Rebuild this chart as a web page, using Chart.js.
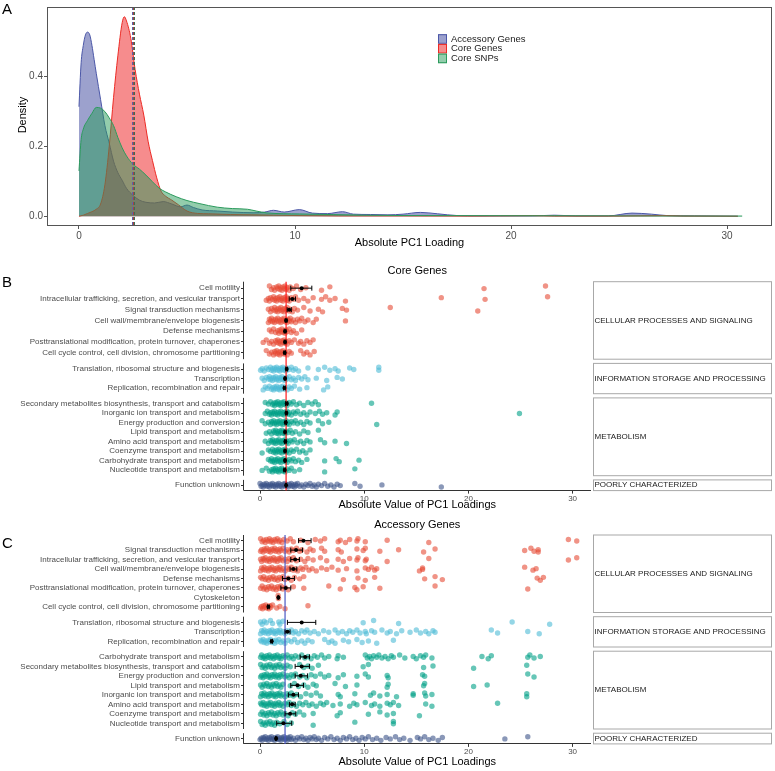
<!DOCTYPE html>
<html>
<head>
<meta charset="utf-8">
<script src="https://cdn.jsdelivr.net/npm/chart.js@4.4.0/dist/chart.umd.min.js"></script>
<style>
  body { margin: 0; background: #fff; }
  #wrap { position: relative; width: 775px; height: 771px; }
  canvas { position: absolute; left: 0; }
</style>
</head>
<body>
<div id="wrap">
  <canvas id="densityChart" width="775" height="255" style="top:0px"></canvas>
  <canvas id="coreChart" width="775" height="257" style="top:255px"></canvas>
  <canvas id="accChart" width="775" height="259" style="top:512px"></canvas>
</div>
<script>
// ---------- Panel A: density of absolute PC1 loadings ----------
const accDensX = [0, 0.1, 0.2, 0.3, 0.4, 0.5, 0.6, 0.7, 0.8, 1.0, 1.2, 1.4, 1.6, 1.8, 2.0, 2.2, 2.5, 2.8, 3.1, 3.5, 3.9, 4.3, 4.7, 5.0, 5.3, 5.7, 6.4, 7.1, 8.1, 8.6, 9.0, 9.5, 10.2, 10.8, 11.5, 12.2, 12.7, 13.5, 14.3, 15.0, 15.8, 16.6, 17.5, 19, 21, 22, 23, 24.5, 25.6, 26.5, 27.2, 28.5, 30.5];
const accDensY = [0.314, 0.44, 0.49, 0.52, 0.528, 0.52, 0.49, 0.45, 0.41, 0.335, 0.26, 0.21, 0.158, 0.125, 0.103, 0.08, 0.06, 0.046, 0.04, 0.038, 0.042, 0.035, 0.027, 0.032, 0.025, 0.018, 0.015, 0.012, 0.01, 0.012, 0.017, 0.012, 0.019, 0.009, 0.0075, 0.013, 0.006, 0.005, 0.004, 0.006, 0.011, 0.007, 0.002, 0.001, 0.001, 0.003, 0.001, 0.001, 0.009, 0.006, 0.002, 0.001, 0];
const coreDensX = [0, 0.2, 0.4, 0.6, 0.8, 1.0, 1.2, 1.4, 1.6, 1.8, 2.0, 2.1, 2.2, 2.4, 2.6, 2.8, 3.0, 3.2, 3.4, 3.6, 3.8, 4.0, 4.3, 4.6, 5.0, 5.5, 6, 7, 8, 9, 10, 12, 15, 18, 21, 22, 25, 27, 28, 30.5];
const coreDensY = [0, 0.003, 0.008, 0.013, 0.02, 0.035, 0.09, 0.2, 0.34, 0.46, 0.555, 0.572, 0.56, 0.51, 0.42, 0.35, 0.29, 0.215, 0.16, 0.11, 0.072, 0.058, 0.046, 0.033, 0.015, 0.008, 0.007, 0.005, 0.004, 0.003, 0.002, 0.001, 0.001, 0.0005, 0.002, 0.0005, 0.0005, 0.002, 0.0005, 0];
const snpDensX = [0, 0.1, 0.2, 0.4, 0.6, 0.8, 1.0, 1.2, 1.4, 1.6, 1.8, 2.0, 2.2, 2.5, 2.8, 3.1, 3.4, 3.7, 4.0, 4.5, 5.0, 5.6, 6.4, 7.1, 7.8, 8.2, 8.7, 10.2, 11.8, 13.3, 15, 20, 25, 30.7];
const snpDensY = [0.13, 0.22, 0.25, 0.275, 0.295, 0.312, 0.31, 0.3, 0.282, 0.26, 0.226, 0.196, 0.173, 0.149, 0.135, 0.118, 0.099, 0.081, 0.07, 0.056, 0.045, 0.036, 0.026, 0.022, 0.02, 0.015, 0.0095, 0.0066, 0.0047, 0.003, 0.002, 0.0015, 0.001, 0.0005];
const densMedians = [2.44, 2.49, 2.54]; // accessory, core genes, core SNPs
const densXTicks = [0, 10, 20, 30];
const densYTicks = [0, 0.2, 0.4];

// ---------- Panels B and C: loadings per COG category ----------
const groupNames = ['CELLULAR PROCESSES AND SIGNALING', 'INFORMATION STORAGE AND PROCESSING', 'METABOLISM', 'POORLY CHARACTERIZED'];
const loadXTicks = [0, 10, 20, 30];

const coreCats = [
  'Cell motility',
  'Intracellular trafficking, secretion, and vesicular transport',
  'Signal transduction mechanisms',
  'Cell wall/membrane/envelope biogenesis',
  'Defense mechanisms',
  'Posttranslational modification, protein turnover, chaperones',
  'Cell cycle control, cell division, chromosome partitioning',
  'Translation, ribosomal structure and biogenesis',
  'Transcription',
  'Replication, recombination and repair',
  'Secondary metabolites biosynthesis, transport and catabolism',
  'Inorganic ion transport and metabolism',
  'Energy production and conversion',
  'Lipid transport and metabolism',
  'Amino acid transport and metabolism',
  'Coenzyme transport and metabolism',
  'Carbohydrate transport and metabolism',
  'Nucleotide transport and metabolism',
  'Function unknown'
];
const coreGroupSizes = [7, 3, 8, 1];
const coreValues = [
  [0.9,1.1,1.3,1.4,1.6,1.7,1.8,1.9,2.0,2.1,2.2,2.3,2.4,2.5,2.6,2.8,2.9,3.2,3.5,3.9,4.4,5.9,6.7,21.5,27.4],
  [0.6,0.8,0.9,1.0,1.2,1.3,1.4,1.5,1.6,1.7,1.8,1.9,2.0,2.1,2.2,2.3,2.4,2.5,2.6,2.7,2.8,3.0,3.2,3.4,3.7,4.2,4.6,5.1,5.9,6.3,6.7,7.2,8.2,17.4,21.6,27.6],
  [0.8,1.0,1.1,1.3,1.4,1.5,1.6,1.7,1.8,1.9,2.0,2.1,2.2,2.3,2.4,2.5,2.6,2.8,2.9,3.1,3.3,3.6,4.2,4.8,5.6,6.0,7.9,8.3,12.5,20.9],
  [0.8,0.9,1.0,1.1,1.2,1.3,1.4,1.5,1.6,1.7,1.8,1.9,2.0,2.1,2.2,2.3,2.4,2.5,2.6,2.7,2.8,2.9,3.0,3.2,3.4,3.6,3.8,4.0,4.3,4.6,5.1,5.4,8.2],
  [0.9,1.1,1.3,1.5,1.7,1.8,1.9,2.0,2.1,2.2,2.3,2.4,2.5,2.6,2.8,3.0,3.2,3.5,4.0],
  [0.3,0.6,0.9,1.1,1.3,1.5,1.6,1.7,1.8,1.9,2.0,2.1,2.2,2.3,2.4,2.5,2.6,2.8,3.0,3.3,3.7,3.9,4.2,4.5,4.8,5.1],
  [0.6,0.9,1.1,1.3,1.4,1.5,1.6,1.7,1.8,1.9,2.0,2.1,2.2,2.3,2.4,2.6,2.8,3.0,3.9,4.2,4.5,4.8,5.2],
  [0.05,0.2,0.4,0.6,0.8,1.0,1.1,1.2,1.3,1.4,1.5,1.6,1.7,1.8,1.9,2.0,2.1,2.2,2.3,2.4,2.5,2.6,2.8,3.0,3.2,3.4,3.7,4.6,5.6,6.2,6.7,7.2,7.5,8.6,9.0,11.4,11.4],
  [0.2,0.4,0.6,0.8,0.9,1.0,1.1,1.2,1.3,1.4,1.5,1.6,1.7,1.8,1.9,2.0,2.1,2.2,2.3,2.4,2.5,2.6,2.8,3.0,3.2,3.4,3.7,4.0,4.3,4.6,5.4,6.4,7.4,7.9],
  [0.3,0.5,0.7,0.9,1.1,1.2,1.3,1.4,1.5,1.6,1.7,1.8,1.9,2.0,2.1,2.2,2.3,2.4,2.6,2.8,3.0,3.3,3.8,4.5,6.1,6.5],
  [0.5,0.8,1.0,1.2,1.3,1.4,1.5,1.6,1.7,1.8,1.9,2.0,2.1,2.2,2.3,2.4,2.5,2.6,2.8,3.0,3.2,3.5,3.8,4.2,4.6,5.0,5.3,5.6,10.7],
  [0.5,0.7,0.9,1.0,1.1,1.2,1.3,1.4,1.5,1.6,1.7,1.8,1.9,2.0,2.1,2.2,2.3,2.4,2.5,2.6,2.7,2.8,3.0,3.2,3.4,3.6,3.9,4.2,4.5,4.8,5.3,5.7,6.0,6.4,7.2,7.4,24.9],
  [0.2,0.5,0.8,1.0,1.1,1.2,1.3,1.4,1.5,1.6,1.7,1.8,1.9,2.0,2.1,2.2,2.3,2.4,2.5,2.6,2.7,2.8,3.0,3.2,3.4,3.6,3.9,4.2,4.5,4.8,5.6,6.0,6.6,11.2],
  [0.6,0.9,1.1,1.3,1.4,1.5,1.6,1.7,1.8,1.9,2.0,2.1,2.2,2.3,2.4,2.5,2.7,2.9,3.1,3.4,3.8,4.2,4.6,5.6],
  [0.5,0.8,1.0,1.1,1.2,1.3,1.4,1.5,1.6,1.7,1.8,1.9,2.0,2.1,2.2,2.3,2.4,2.5,2.6,2.7,2.9,3.1,3.3,3.6,3.9,4.2,4.5,4.8,5.8,6.2,7.2,8.3],
  [0.2,0.8,1.0,1.2,1.3,1.4,1.5,1.6,1.7,1.8,1.9,2.0,2.1,2.2,2.3,2.4,2.5,2.6,2.8,3.0,3.2,3.5,3.8,4.1,4.4,4.8],
  [0.8,1.0,1.1,1.2,1.3,1.4,1.5,1.6,1.7,1.8,1.9,2.0,2.1,2.2,2.3,2.4,2.5,2.6,2.8,3.0,3.2,3.4,3.7,4.0,4.5,6.2,7.3,7.6,9.5],
  [0.2,0.6,0.9,1.1,1.2,1.3,1.4,1.5,1.6,1.7,1.8,1.9,2.0,2.1,2.2,2.3,2.4,2.6,2.8,3.0,3.3,3.8,6.2,9.1],
  [0.0,0.1,0.2,0.3,0.4,0.5,0.6,0.7,0.8,0.9,1.0,1.1,1.2,1.3,1.4,1.5,1.6,1.7,1.8,1.9,2.0,2.1,2.2,2.3,2.4,2.5,2.6,2.7,2.8,2.9,3.0,3.1,3.2,3.3,3.4,3.5,3.6,3.8,4.0,4.2,4.4,4.6,4.8,5.0,5.2,5.4,5.6,5.9,6.2,6.5,6.8,7.1,7.4,7.7,9.1,9.6,11.7,17.4]
];
const coreMean = [4.0, 3.1, 2.8, 2.5, 2.4, 2.4, 2.37, 2.56, 2.4, 2.34, 2.56, 2.53, 2.47, 2.4, 2.43, 2.4, 2.4, 2.37, 2.5];
const coreLo = [2.95, 2.8, 2.6, 2.42, 2.32, 2.32, 2.3, 2.48, 2.33, 2.26, 2.46, 2.46, 2.4, 2.32, 2.36, 2.32, 2.33, 2.29, 2.45];
const coreHi = [4.97, 3.4, 3.0, 2.58, 2.48, 2.48, 2.44, 2.64, 2.47, 2.42, 2.66, 2.6, 2.54, 2.48, 2.5, 2.48, 2.47, 2.45, 2.55];
const coreRef = 2.5;

const accCats = [
  'Cell motility',
  'Signal transduction mechanisms',
  'Intracellular trafficking, secretion, and vesicular transport',
  'Cell wall/membrane/envelope biogenesis',
  'Defense mechanisms',
  'Posttranslational modification, protein turnover, chaperones',
  'Cytoskeleton',
  'Cell cycle control, cell division, chromosome partitioning',
  'Translation, ribosomal structure and biogenesis',
  'Transcription',
  'Replication, recombination and repair',
  'Carbohydrate transport and metabolism',
  'Secondary metabolites biosynthesis, transport and catabolism',
  'Energy production and conversion',
  'Lipid transport and metabolism',
  'Inorganic ion transport and metabolism',
  'Amino acid transport and metabolism',
  'Coenzyme transport and metabolism',
  'Nucleotide transport and metabolism',
  'Function unknown'
];
const accGroupSizes = [8, 3, 8, 1];
const accValues = [
  [0.05,0.2,0.35,0.5,0.6,0.75,0.9,1.0,1.1,1.25,1.4,1.5,1.65,1.8,1.9,2.1,2.3,2.6,2.9,3.2,3.9,4.6,5.3,5.8,6.2,7.5,7.7,8.2,8.6,9.3,9.4,10.1,12.2,16.2,29.6,30.4],
  [0.05,0.15,0.3,0.4,0.5,0.65,0.8,0.9,1.0,1.15,1.3,1.4,1.5,1.65,1.8,1.9,2.0,2.2,2.4,2.6,2.8,3.0,3.2,3.5,3.8,4.0,4.5,4.8,5.1,5.9,6.2,7.5,7.8,9.3,9.9,10.1,11.5,13.3,15.7,16.8,25.4,26.0,26.3,26.7,26.7],
  [0.05,0.15,0.3,0.4,0.5,0.65,0.8,0.9,1.0,1.15,1.3,1.4,1.5,1.65,1.8,1.9,2.0,2.2,2.4,2.6,2.8,3.0,3.2,3.5,3.9,4.3,4.6,5.1,5.8,6.4,7.5,8.0,8.6,9.3,9.4,10.1,10.2,12.2,16.2,29.6,30.4],
  [0.05,0.15,0.3,0.4,0.5,0.65,0.8,0.9,1.0,1.15,1.3,1.4,1.5,1.65,1.8,1.9,2.0,2.2,2.4,2.6,2.8,3.0,3.2,3.4,3.6,3.9,4.1,4.4,4.7,5.0,5.4,5.9,6.4,6.9,7.5,8.3,9.3,10.1,10.4,10.7,11.0,11.2,15.3,15.6,15.6,25.4,26.2,26.5],
  [0.05,0.2,0.35,0.5,0.65,0.8,0.95,1.1,1.25,1.4,1.55,1.7,1.85,2.0,2.2,2.4,2.7,3.0,3.3,3.8,4.2,8.0,9.4,10.1,11.0,15.8,16.8,17.5,26.6,26.9,27.2],
  [0.05,0.2,0.35,0.5,0.65,0.8,0.95,1.1,1.25,1.4,1.55,1.7,1.85,2.0,2.2,2.4,2.7,3.2,4.2,6.6,7.7,9.1,9.3,9.9,11.5,16.8,25.7],
  [1.74,1.77],
  [0.05,0.15,0.25,0.35,0.45,0.55,0.65,0.75,0.85,0.95,1.05,1.2,1.6,1.9,2.4,4.6],
  [0.05,0.2,0.4,0.6,1.0,1.2,1.8,1.9,2.2,9.9,10.9,13.3,24.2,27.8],
  [0.05,0.15,0.3,0.4,0.5,0.65,0.8,0.9,1.0,1.15,1.3,1.4,1.5,1.65,1.8,1.9,2.0,2.2,2.4,2.6,2.8,3.0,3.2,3.4,3.7,4.0,4.3,4.5,4.8,5.2,5.6,6.1,6.6,7.2,7.5,7.9,8.3,8.6,8.9,9.3,9.6,10.1,10.2,10.7,11.0,11.7,12.2,12.5,13.1,13.6,14.4,15.0,15.4,15.9,16.2,16.6,16.8,22.2,22.8,25.7,26.8],
  [0.05,0.15,0.3,0.4,0.5,0.65,0.8,0.9,1.0,1.15,1.3,1.4,1.5,1.65,1.8,2.0,2.2,2.4,2.7,3.0,3.3,3.6,4.0,4.3,4.6,5.0,6.2,6.6,6.9,7.2,8.0,8.5,9.3,9.8,10.4,11.2,12.8],
  [0.05,0.15,0.3,0.4,0.5,0.65,0.8,0.9,1.0,1.15,1.3,1.4,1.5,1.65,1.8,1.9,2.0,2.2,2.4,2.6,2.8,3.0,3.2,3.4,3.7,4.0,4.3,4.6,4.9,5.2,5.5,5.9,6.2,6.6,7.4,7.5,8.0,10.1,10.3,10.5,10.7,10.9,11.2,11.4,11.7,12.0,12.3,12.6,12.8,13.4,13.9,14.7,15.0,15.4,15.7,15.9,16.5,21.3,21.9,22.2,25.7,25.9,26.3,26.9],
  [0.05,0.2,0.35,0.5,0.65,0.8,0.95,1.1,1.25,1.4,1.55,1.7,1.85,2.0,2.2,2.4,2.6,2.9,3.8,4.2,4.6,5.0,5.6,9.9,10.4,15.7,16.6,20.5,25.6],
  [0.05,0.15,0.3,0.4,0.5,0.65,0.8,0.9,1.0,1.15,1.3,1.4,1.5,1.65,1.8,1.9,2.0,2.2,2.4,2.6,2.8,3.0,3.2,3.4,3.8,4.1,4.5,4.9,5.3,5.8,6.2,6.6,7.5,8.0,9.3,10.1,10.4,12.2,12.3,15.6,15.8,25.7,26.3],
  [0.05,0.2,0.35,0.5,0.65,0.8,0.95,1.1,1.25,1.4,1.55,1.7,1.85,2.0,2.2,2.9,3.3,3.7,4.2,4.6,5.1,5.4,7.2,8.2,9.3,12.2,12.3,15.7,15.8,20.5,21.8],
  [0.05,0.15,0.3,0.4,0.5,0.65,0.8,0.9,1.0,1.15,1.3,1.4,1.5,1.65,1.8,1.9,2.0,2.2,2.4,2.6,2.8,3.0,3.2,3.5,3.9,4.4,4.9,5.4,5.8,7.5,7.7,9.1,10.6,10.9,11.5,12.2,13.1,14.7,14.7,15.8,15.9,16.5,25.6,25.6],
  [0.05,0.15,0.3,0.4,0.5,0.65,0.8,0.9,1.0,1.15,1.3,1.4,1.5,1.65,1.8,1.9,2.0,2.2,2.4,2.6,2.8,3.0,3.2,3.5,3.8,4.1,4.4,4.7,5.0,5.4,5.8,6.1,6.4,7.0,7.7,8.6,9.0,9.3,10.1,10.7,11.0,11.5,12.2,12.5,12.8,13.3,15.9,16.5,22.8],
  [0.05,0.2,0.35,0.5,0.65,0.8,0.95,1.1,1.25,1.4,1.55,1.7,1.85,2.0,2.2,2.4,2.7,3.1,3.4,3.8,4.2,5.1,7.4,7.7,10.4,11.5,12.2,12.8,15.3],
  [0.05,0.2,0.35,0.5,0.65,0.8,0.95,1.1,1.25,1.4,1.6,1.9,2.3,2.6,3.0,5.1,9.1,12.8,12.8],
  [0.0,0.1,0.2,0.3,0.4,0.5,0.6,0.7,0.8,0.9,1.0,1.1,1.2,1.3,1.4,1.5,1.6,1.7,1.8,1.9,2.0,2.1,2.2,2.3,2.4,2.5,2.6,2.7,2.8,2.9,3.0,3.2,3.4,3.6,3.8,4.0,4.2,4.4,4.6,4.8,5.0,5.2,5.4,5.6,5.9,6.2,6.5,6.8,7.1,7.4,7.7,8.0,8.3,8.6,8.9,9.2,9.5,9.8,10.1,10.4,10.8,11.2,11.6,12.1,12.5,13.0,13.4,13.8,14.4,15.1,15.4,15.8,16.2,16.6,17.1,17.5,23.5,25.7]
];
const accMean = [4.17, 3.46, 3.37, 3.2, 2.72, 2.47, 1.76, 0.8, 4.0, 2.63, 1.12, 4.33, 4.0, 3.9, 3.59, 3.2, 3.08, 2.88, 2.24, 1.54];
const accLo = [3.7, 2.95, 2.95, 2.88, 2.15, 2.0, 1.72, 0.72, 2.63, 2.4, 1.05, 3.85, 3.37, 3.37, 2.95, 2.72, 2.82, 2.4, 1.6, 1.48];
const accHi = [4.9, 4.07, 3.78, 3.53, 3.3, 2.95, 1.8, 0.88, 5.35, 2.88, 1.19, 4.74, 4.74, 4.55, 4.17, 3.69, 3.37, 3.43, 3.04, 1.6];
const accRef = 2.4;

// ---------- styling / layout ----------
const FONT = "'Liberation Sans', Arial, sans-serif";
const GROUP_RGB = ['230,75,53', '77,187,213', '0,160,135', '60,84,136'];
const FACET_PX = [77.5, 30.3, 77.8, 10.7];  // panel heights of the four facets
const FACET_GAP = 4.2;
// fixed vertical jitter pattern, in row units
const JITTER = [-0.2, 0.12, -0.04, 0.2, -0.12, 0.04];

function text(ctx, str, x, y, size, color, align, rot) {
    ctx.save();
    ctx.font = `${size}px ${FONT}`;
    ctx.fillStyle = color;
    ctx.textAlign = align || 'center';
    ctx.textBaseline = 'middle';
    ctx.translate(x, y);
    if (rot) ctx.rotate(rot);
    ctx.fillText(str, 0, 0);
    ctx.restore();
}

function densityChart() {
    const ctx = document.getElementById('densityChart').getContext('2d');
    const series = [
        { label: 'Core SNPs', xs: snpDensX, ys: snpDensY, line: '#2b9a5c', fill: 'rgba(40,155,90,0.5)' },
        { label: 'Core Genes', xs: coreDensX, ys: coreDensY, line: '#ec2a24', fill: 'rgba(238,25,28,0.5)' },
        { label: 'Accessory Genes', xs: accDensX, ys: accDensY, line: '#4b57a7', fill: 'rgba(58,68,155,0.5)' }
    ];
    const medianColors = ['#5a64ad', '#a5443c', '#3d6f55'];

    const panelA = {
        id: 'panelA',
        afterDatasetsDraw(chart) {
            const { ctx, chartArea: ca, scales: { x } } = chart;
            ctx.save();
            ctx.lineWidth = 1;
            ctx.setLineDash([3, 2]);
            densMedians.forEach((m, i) => {
                const px = Math.round(x.getPixelForValue(m)) + 0.5;
                ctx.strokeStyle = medianColors[i];
                ctx.beginPath();
                ctx.moveTo(px, ca.top);
                ctx.lineTo(px, ca.bottom);
                ctx.stroke();
            });
            ctx.restore();
        },
        afterDraw(chart) {
            const { ctx, chartArea: ca } = chart;
            ctx.save();
            ctx.strokeStyle = '#555';
            ctx.lineWidth = 1;
            ctx.strokeRect(ca.left + 0.5, ca.top + 0.5, ca.right - ca.left - 1, ca.bottom - ca.top - 1);
            // legend, drawn in ggplot order
            const order = [2, 1, 0];
            order.forEach((si, k) => {
                const s = series[si];
                const cy = 39 + k * 9.7;
                ctx.fillStyle = '#fff';
                ctx.fillRect(438, cy - 4.8, 9, 9.6);
                ctx.fillStyle = s.fill;
                ctx.fillRect(438, cy - 4.8, 9, 9.6);
                ctx.strokeStyle = s.line;
                ctx.strokeRect(438.5, cy - 4.3, 8, 8.6);
                text(ctx, s.label, 451, cy, 9.5, '#1a1a1a', 'left');
            });
            ctx.restore();
            text(ctx, 'Density', 23, 115, 11, '#000', 'center', -Math.PI / 2);
            text(ctx, 'Absolute PC1 Loading', (ca.left + ca.right) / 2, 243, 11, '#000');
            text(ctx, 'A', 2, 10, 15, '#000', 'left');
        }
    };

    new Chart(ctx, {
        type: 'line',
        data: {
            datasets: series.map(s => ({
                label: s.label,
                data: s.xs.map((v, i) => ({ x: v, y: s.ys[i] })),
                borderColor: s.line,
                backgroundColor: s.fill,
                borderWidth: 1,
                pointRadius: 0,
                fill: 'origin',
                cubicInterpolationMode: 'monotone'
            }))
        },
        options: {
            responsive: false,
            animation: false,
            layout: { padding: { top: 4, right: 3, left: 0, bottom: 0 } },
            plugins: { legend: { display: false }, tooltip: { enabled: false } },
            scales: {
                x: {
                    type: 'linear', min: -1.48, max: 32.08,
                    afterBuildTicks: axis => { axis.ticks = densXTicks.map(v => ({ value: v })); },
                    afterFit: scale => { scale.height = 29; },
                    grid: { drawOnChartArea: false, tickLength: 3, color: '#555' },
                    border: { display: false },
                    ticks: { font: { size: 10, family: FONT }, color: '#4d4d4d', padding: 1, maxRotation: 0 }
                },
                y: {
                    type: 'linear', min: -0.028, max: 0.6,
                    afterBuildTicks: axis => { axis.ticks = densYTicks.map(v => ({ value: v })); },
                    afterFit: scale => { scale.width = 47; },
                    grid: { drawOnChartArea: false, tickLength: 3, color: '#555' },
                    border: { display: false },
                    ticks: { font: { size: 10, family: FONT }, color: '#4d4d4d', padding: 1, callback: v => v.toFixed(1) }
                }
            }
        },
        plugins: [panelA]
    });
}

// rows of each facet spaced like ggplot (0.6 expansion on both ends)
function facetLayout(sizes) {
    const rows = [], units = [], bounds = [];
    let top = 0;
    sizes.forEach((n, g) => {
        const h = FACET_PX[g];
        const unit = h / (n + 0.2);
        for (let i = 0; i < n; i++) {
            rows.push(top + (0.6 + i) * unit);
            units.push(unit);
        }
        bounds.push([top, top + h]);
        top += h + FACET_GAP;
    });
    return { rows, units, bounds, total: top - FACET_GAP };
}

function stripChart(canvasId, cfg) {
    const canvas = document.getElementById(canvasId);
    const lay = facetLayout(cfg.sizes);
    const xAxisH = canvas.height - cfg.topPad - lay.total;
    const rowGroup = [];
    cfg.sizes.forEach((n, g) => { for (let i = 0; i < n; i++) rowGroup.push(g); });

    const datasets = groupNames.map((name, g) => {
        const pts = [];
        cfg.values.forEach((row, r) => {
            if (rowGroup[r] !== g) return;
            row.forEach((v, k) => {
                pts.push({ x: v, y: lay.rows[r] + JITTER[(k + r) % JITTER.length] * lay.units[r] });
            });
        });
        return {
            label: name,
            data: pts,
            backgroundColor: `rgba(${GROUP_RGB[g]},0.6)`,
            borderWidth: 0,
            pointRadius: 2.7
        };
    });

    const facets = {
        id: 'facets',
        afterDatasetsDraw(chart) {
            const { ctx, chartArea: ca, scales: { x, y } } = chart;
            ctx.save();
            // overall reference line
            const rx = x.getPixelForValue(cfg.ref);
            ctx.strokeStyle = cfg.refColor;
            ctx.lineWidth = 1.2;
            ctx.beginPath();
            ctx.moveTo(rx, ca.top);
            ctx.lineTo(rx, ca.bottom);
            ctx.stroke();
            // mean +/- error bars
            ctx.strokeStyle = '#000';
            ctx.fillStyle = '#000';
            ctx.lineWidth = 1;
            cfg.mean.forEach((m, r) => {
                const py = y.getPixelForValue(lay.rows[r]);
                const a = x.getPixelForValue(cfg.lo[r]);
                const b = x.getPixelForValue(cfg.hi[r]);
                ctx.beginPath();
                ctx.moveTo(a, py); ctx.lineTo(b, py);
                ctx.moveTo(a, py - 2.5); ctx.lineTo(a, py + 2.5);
                ctx.moveTo(b, py - 2.5); ctx.lineTo(b, py + 2.5);
                ctx.stroke();
                ctx.beginPath();
                ctx.arc(x.getPixelForValue(m), py, 2, 0, Math.PI * 2);
                ctx.fill();
            });
            ctx.restore();
        },
        afterDraw(chart) {
            const { ctx, chartArea: ca, scales: { y } } = chart;
            ctx.save();
            ctx.lineWidth = 1;
            lay.bounds.forEach((bd, g) => {
                const t = y.getPixelForValue(bd[0]);
                const b = y.getPixelForValue(bd[1]);
                // axis line per facet
                ctx.strokeStyle = '#333';
                ctx.beginPath();
                ctx.moveTo(ca.left - 0.5, t);
                ctx.lineTo(ca.left - 0.5, b);
                ctx.stroke();
                // strip on the right
                ctx.fillStyle = '#fff';
                ctx.fillRect(593.5, t, 178, b - t);
                ctx.strokeStyle = '#a8a8a8';
                ctx.strokeRect(593.5, t, 178, b - t);
                text(ctx, groupNames[g], 594.5, (t + b) / 2, 8, '#1a1a1a', 'left');
            });
            ctx.restore();
            const cx = (ca.left + ca.right) / 2;
            text(ctx, cfg.title, cx, cfg.titleY, 11, '#000');
            text(ctx, 'Absolute Value of PC1 Loadings', cx, cfg.xTitleY, 11, '#000');
            text(ctx, cfg.letter, 2, cfg.letterY, 15, '#000', 'left');
        }
    };

    new Chart(canvas.getContext('2d'), {
        type: 'scatter',
        data: { datasets },
        options: {
            responsive: false,
            animation: false,
            layout: { padding: { top: cfg.topPad, right: 775 - 590.5, left: 0, bottom: 0 } },
            plugins: { legend: { display: false }, tooltip: { enabled: false } },
            scales: {
                x: {
                    type: 'linear', min: -1.54, max: 31.72,
                    afterBuildTicks: axis => { axis.ticks = loadXTicks.map(v => ({ value: v })); },
                    afterFit: scale => { scale.height = xAxisH; },
                    grid: { drawOnChartArea: false, tickLength: 3, color: '#333' },
                    border: { display: true, color: '#333', width: 1 },
                    ticks: { font: { size: 8, family: FONT }, color: '#4d4d4d', padding: 0, maxRotation: 0 }
                },
                y: {
                    type: 'linear', reverse: true, min: 0, max: lay.total,
                    afterBuildTicks: axis => { axis.ticks = lay.rows.map(v => ({ value: v })); },
                    afterFit: scale => { scale.width = 244; },
                    grid: { drawOnChartArea: false, tickLength: 3, color: '#333' },
                    border: { display: false },
                    ticks: {
                        autoSkip: false,
                        font: { size: 8, family: FONT },
                        color: '#4d4d4d',
                        padding: 1,
                        callback: (v, i) => cfg.cats[i]
                    }
                }
            }
        },
        plugins: [facets]
    });
}

densityChart();
stripChart('coreChart', {
    cats: coreCats, sizes: coreGroupSizes, values: coreValues,
    mean: coreMean, lo: coreLo, hi: coreHi,
    ref: coreRef, refColor: '#ff1a1a',
    title: 'Core Genes', titleY: 16, xTitleY: 250, letter: 'B', letterY: 27.5, topPad: 26.7
});
stripChart('accChart', {
    cats: accCats, sizes: accGroupSizes, values: accValues,
    mean: accMean, lo: accLo, hi: accHi,
    ref: accRef, refColor: '#4a58c4',
    title: 'Accessory Genes', titleY: 13, xTitleY: 249.7, letter: 'C', letterY: 32, topPad: 23
});
</script>
</body>
</html>
